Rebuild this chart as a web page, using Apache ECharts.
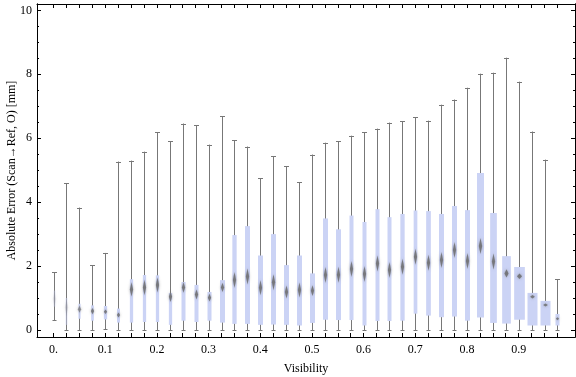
<!DOCTYPE html>
<html>
<head>
<meta charset="utf-8">
<script src="https://cdn.jsdelivr.net/npm/echarts@6.0.0/dist/echarts.min.js"></script>
<style>
  html, body { margin: 0; padding: 0; background: #fff; }
  #chart { width: 576px; height: 377px; }
</style>
</head>
<body>
<div id="chart"></div>
<script>
// visibility bins (box centres)
var visibility = [0, 0.025, 0.05, 0.075, 0.1, 0.125, 0.15, 0.175, 0.2, 0.225,
  0.25, 0.275, 0.3, 0.325, 0.35, 0.375, 0.4, 0.425, 0.45, 0.475,
  0.5, 0.525, 0.55, 0.575, 0.6, 0.625, 0.65, 0.675, 0.7, 0.725,
  0.75, 0.775, 0.8, 0.825, 0.85, 0.875, 0.9, 0.925, 0.95, 0.975]
// whisker ends, quartiles, medians [mm]
var whiskerLow = [0.31, 0, 0, 0, 0.02, 0, 0, 0, 0, 0,
  0, 0, 0, 0, 0, 0, 0, 0, 0, 0,
  0, 0, 0, 0, 0, 0, 0, 0, 0, 0,
  0, 0, 0, 0, 0, 0, 0, 0, 0, 0]
var q1 = [0.73, 0.16, 0.35, 0.29, 0.33, 0.23, 0.23, 0.25, 0.25, 0.16,
  0.29, 0.25, 0.29, 0.23, 0.19, 0.19, 0.16, 0.17, 0.16, 0.14,
  0.22, 0.32, 0.31, 0.31, 0.14, 0.28, 0.28, 0.29, 0.51, 0.45,
  0.40, 0.42, 0.29, 0.39, 0.22, 0.20, 0.32, 0.14, 0.14, 0.14]
var median = [0.97, 0.70, 0.65, 0.59, 0.57, 0.47, 1.27, 1.33, 1.41, 1.04,
  1.33, 1.11, 1.01, 1.33, 1.56, 1.67, 1.32, 1.49, 1.19, 1.25,
  1.23, 1.72, 1.73, 1.91, 1.75, 2.08, 1.88, 1.98, 2.29, 2.10,
  2.19, 2.50, 2.16, 2.63, 2.14, 1.77, 1.68, 1.04, 0.78, 0.35]
var q3 = [1.23, 1.00, 0.82, 0.77, 0.75, 0.67, 1.59, 1.72, 1.71, 1.16,
  1.50, 1.41, 1.19, 1.56, 2.97, 3.25, 2.33, 3.00, 2.03, 2.33,
  1.77, 3.49, 3.15, 3.58, 3.38, 3.78, 3.53, 3.63, 3.74, 3.72,
  3.63, 3.88, 3.75, 4.91, 3.66, 2.31, 1.97, 1.16, 0.91, 0.50]
var whiskerHigh = [1.81, 4.59, 3.83, 2.03, 2.41, 5.27, 5.30, 5.58, 6.18, 5.90,
  6.46, 6.40, 5.80, 6.68, 5.93, 5.74, 4.74, 5.43, 5.12, 4.62,
  5.49, 5.86, 5.90, 6.08, 6.18, 6.30, 6.49, 6.53, 6.65, 6.55,
  7.05, 7.21, 7.58, 8.02, 8.05, 8.52, 7.77, 6.21, 5.33, 1.58]
// relative sample counts (box width ~ sqrt of count)
var sampleCount = [9, 13, 46, 64, 95, 79, 95, 95, 95, 95,
  140, 140, 140, 218, 161, 218, 218, 218, 218, 218,
  218, 218, 218, 140, 140, 140, 140, 161, 120, 193,
  218, 218, 218, 428, 392, 661, 1000, 873, 873, 140]

var xTicks = visibility
var xLabels = [0, 0.1, 0.2, 0.3, 0.4, 0.5, 0.6, 0.7, 0.8, 0.9]
var yLabels = [0, 2, 4, 6, 8, 10]
var yMinorTicks = [0, 0.5, 1, 1.5, 2, 2.5, 3, 3.5, 4, 4.5, 5, 5.5, 6, 6.5, 7, 7.5, 8, 8.5, 9, 9.5, 10]

var FONT = "'Liberation Serif', 'DejaVu Serif', serif"
var X_MIN = -0.032, X_MAX = 1.009
var Y_MIN = -0.22, Y_MAX = 10.2
var BOX_MAX_W = 10.7
var MAX_COUNT = 1000

var data = []
for (var i = 0; i < visibility.length; i++) {
  data.push([visibility[i], whiskerLow[i], q1[i], median[i], q3[i], whiskerHigh[i], sampleCount[i]])
}

function renderBox(params, api) {
  var x = api.value(0)
  var lo = api.coord([x, api.value(1)])
  var b1 = api.coord([x, api.value(2)])
  var md = api.coord([x, api.value(3)])
  var b3 = api.coord([x, api.value(4)])
  var hi = api.coord([x, api.value(5)])
  var n = api.value(6)
  var cx = Math.round(lo[0]) + 0.5
  var w = BOX_MAX_W * Math.sqrt(n / MAX_COUNT)
  // very thin boxes come out faint, like in the original
  var fade = Math.min(1, w / 2.6)
  // diamond: median with rough confidence band
  var iqr = api.value(4) - api.value(2)
  var band = 1.6 * iqr / Math.sqrt(n)
  var dh = Math.abs(api.coord([x, api.value(3) + band])[1] - md[1])
  dh = Math.max(1.5, Math.min(8, dh))
  var dw = Math.max(1.6, w * 0.24)
  var line = { stroke: '#777', lineWidth: 1 }
  return {
    type: 'group',
    children: [
      { type: 'line', shape: { x1: cx, y1: hi[1], x2: cx, y2: lo[1] }, style: line },
      { type: 'line', shape: { x1: cx - 2.5, y1: Math.round(hi[1]) + 0.5, x2: cx + 2.5, y2: Math.round(hi[1]) + 0.5 }, style: line },
      { type: 'line', shape: { x1: cx - 2, y1: Math.round(lo[1]) + 0.5, x2: cx + 2, y2: Math.round(lo[1]) + 0.5 }, style: line },
      { type: 'rect', shape: { x: cx - Math.max(w, 2) / 2, y: b3[1], width: Math.max(w, 2), height: b1[1] - b3[1] }, style: { fill: '#cbd3f5', opacity: fade } },
      {
        type: 'polygon',
        shape: { points: [[cx, md[1] - dh], [cx + dw, md[1]], [cx, md[1] + dh], [cx - dw, md[1]]] },
        style: { fill: 'rgba(105,105,105,0.8)', shadowBlur: 3, shadowColor: 'rgba(110,110,110,0.7)', opacity: fade * fade }
      }
    ]
  }
}

var chart = echarts.init(document.getElementById('chart'))

var axisLine = { show: true, onZero: false, lineStyle: { color: '#000', width: 1 } }

var option = {
  animation: false,
  grid: { left: 37, right: 1, top: 4, bottom: 40, containLabel: false, outerBoundsMode: 'none' },
  xAxis: [
    {
      type: 'value', position: 'bottom', min: X_MIN, max: X_MAX,
      axisLine: axisLine,
      axisTick: { inside: true, length: 4, customValues: xTicks, lineStyle: { color: '#000' } },
      axisLabel: {
        customValues: xLabels, margin: 7, color: '#000', fontSize: 12, fontFamily: FONT,
        formatter: function (v) { return v === 0 ? '0.' : String(v) }
      },
      splitLine: { show: false },
      name: 'Visibility', nameLocation: 'middle', nameGap: 26, nameMoveOverlap: false,
      nameTextStyle: { color: '#000', fontSize: 12, fontFamily: FONT }
    },
    {
      type: 'value', position: 'top', min: X_MIN, max: X_MAX,
      axisLine: axisLine,
      axisTick: { inside: true, length: 4, customValues: xTicks, lineStyle: { color: '#000' } },
      axisLabel: { show: false },
      splitLine: { show: false }
    }
  ],
  yAxis: [
    {
      type: 'value', position: 'left', min: Y_MIN, max: Y_MAX,
      axisLine: axisLine,
      axisTick: { inside: true, length: 4, customValues: yLabels, lineStyle: { color: '#000' } },
      axisLabel: { customValues: yLabels, margin: 5, color: '#000', fontSize: 12, fontFamily: FONT },
      splitLine: { show: false },
      name: 'Absolute Error (Scan\u2192Ref, O) [mm]', nameLocation: 'middle', nameGap: 19, nameMoveOverlap: false,
      nameTextStyle: { color: '#000', fontSize: 12, fontFamily: FONT }
    },
    {
      type: 'value', position: 'left', min: Y_MIN, max: Y_MAX,
      axisLine: axisLine,
      axisTick: { inside: true, length: 2, customValues: yMinorTicks, lineStyle: { color: '#000' } },
      axisLabel: { show: false },
      splitLine: { show: false }
    },
    {
      type: 'value', position: 'right', min: Y_MIN, max: Y_MAX,
      axisLine: axisLine,
      axisTick: { inside: true, length: 4, customValues: yLabels, lineStyle: { color: '#000' } },
      axisLabel: { show: false },
      splitLine: { show: false }
    },
    {
      type: 'value', position: 'right', min: Y_MIN, max: Y_MAX,
      axisLine: axisLine,
      axisTick: { inside: true, length: 2, customValues: yMinorTicks, lineStyle: { color: '#000' } },
      axisLabel: { show: false },
      splitLine: { show: false }
    }
  ],
  series: [
    {
      type: 'custom',
      xAxisIndex: 0,
      yAxisIndex: 0,
      renderItem: renderBox,
      encode: { x: 0, y: [1, 2, 3, 4, 5] },
      data: data,
      clip: true
    }
  ]
}

chart.setOption(option)
</script>
</body>
</html>
